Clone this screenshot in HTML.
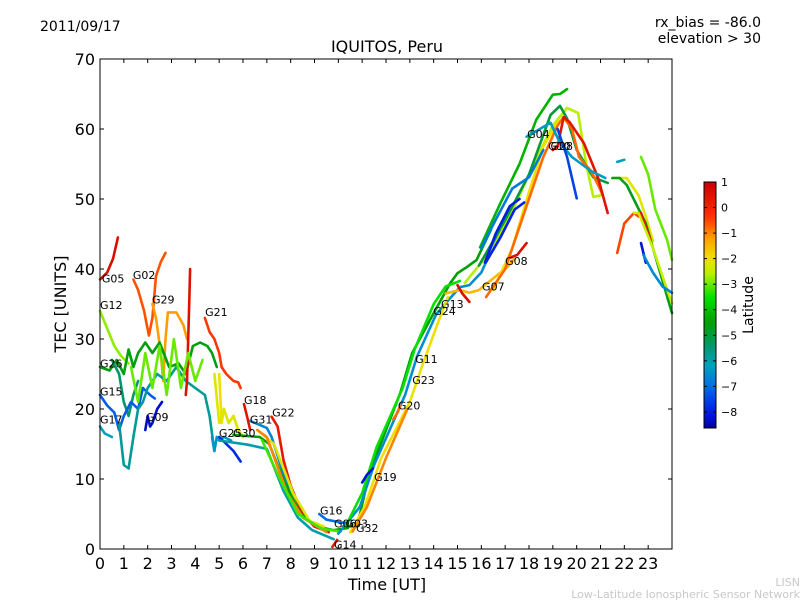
<!DOCTYPE html>
<html><head><meta charset="utf-8"><style>
body{margin:0;background:#fff;font-family:"Liberation Sans","DejaVu Sans",sans-serif}
svg text{font-family:"DejaVu Sans","Liberation Sans",sans-serif}
</style></head><body>
<svg id="c" width="800" height="600" xmlns="http://www.w3.org/2000/svg">
<rect width="800" height="600" fill="#fff"/>
<text x="40" y="31" font-size="14">2011/09/17</text>
<text x="761" y="27" font-size="14" text-anchor="end">rx_bias = -86.0</text>
<text x="761" y="43" font-size="14" text-anchor="end">elevation &gt; 30</text>
<text x="387" y="52" font-size="16" text-anchor="middle">IQUITOS, Peru</text>
<text x="387" y="590" font-size="16" text-anchor="middle">Time [UT]</text>
<text transform="translate(66,304) rotate(-90)" font-size="16" text-anchor="middle">TEC [UNITS]</text>
<text transform="translate(753,305) rotate(-90)" font-size="14" text-anchor="middle">Latitude</text>
<text x="800" y="586" font-size="11" fill="#c8c8c8" text-anchor="end">LISN</text>
<text x="800" y="598" font-size="11" fill="#c8c8c8" text-anchor="end">Low-Latitude Ionospheric Sensor Network</text>
<g id="plot"></g>
</svg>
<script>
const xTicks=[0,1,2,3,4,5,6,7,8,9,10,11,12,13,14,15,16,17,18,19,20,21,22,23];
const yTicks=[0,10,20,30,40,50,60,70];
const cbTicks=[1,0,-1,-2,-3,-4,-5,-6,-7,-8];
const cbRange=[-8.63,1];
const seriesNames=["g05","g02","g29","g12","g26","g26b","g15","g17","g17b","g09","g21","g21b","red-spike","lime-noise","yellow-noise","g25","g30","g18","g22","g31","d-green","d-teal","d-yellow","d-orange","d-lime","g16","g14","a-green","a-teal","a-yellow","a-orange","a-lime","g19","g20","g07","g13","g08","p-green","p-lime","p-green2","p-yellow","p-orange","p-red","g04","p-blue","p-blue2","p-teal","p-blue3","r-teal","r-glime","r-yellow","r-green","r-red","r-orange","r-ylime","r-blue","r-teal2"];
const seriesLat=[0.6,-0.6,-1.2,-2.8,-4.6,-5.4,-7.2,-6.2,-5.8,-8.3,-0.4,-2,0.5,-3,-2.2,-6.4,-7.8,0.4,0.3,-6.6,-4.5,-6,-2.2,-1,-3.2,-7,0.2,-4.5,-6.5,-2,-1,-3.5,-8.2,-0.8,-1.5,0.6,0.5,-4.2,-2.6,-5,-2,-0.8,0.4,-6.3,-8,-7.9,-6.8,-7.5,-6.2,-3,-2.2,-4.7,0.5,-0.5,-2.5,-8.1,-6.6];
const seriesT=[
[0,0.3,0.55,0.75],
[1.4,1.6,1.85,2.05,2.2,2.35,2.55,2.75],
[2.2,2.35,2.55,2.65,2.75,2.85,3.2,3.5,3.65],
[0,0.3,0.6,0.9,1.2],
[0,0.4,0.7,1.0,1.2,1.4,1.6,1.9,2.2,2.5,2.9,3.3,3.6,3.9,4.2,4.5,4.7,4.9],
[0.5,0.8,1.0,1.2,1.4,1.6],
[0,0.3,0.6,0.8,1.0,1.3,1.6,1.8,2.1,2.3],
[0,0.2,0.5],
[0.8,1.0,1.2,1.4,1.6,1.8,2.0,2.4,2.8,3.2,3.6,4.0,4.4,4.6,4.8],
[1.9,2.0,2.1,2.2,2.4,2.6],
[4.4,4.6,4.8,5.0,5.1,5.3,5.6,5.8,5.9],
[5.0,5.1,5.2,5.4,5.6,5.8,6.0],
[3.6,3.65,3.7,3.75,3.78],
[1.3,1.6,1.9,2.2,2.5,2.8,3.1,3.4,3.7,4.0,4.3],
[4.8,5.0,5.2,5.4,5.6,5.8,6.0],
[4.7,4.8,4.9,5.0,5.2,5.5],
[5.0,5.3,5.6,5.9],
[6.04,6.2,6.3],
[7.2,7.45,7.7,8.0,8.5,9.0,9.6],
[6.3,7.0,7.2,7.55,8.2],
[5.6,6.7,7.1,7.7,8.4,9.1,9.8,10.4],
[5.0,6.2,7.0,7.7,8.3,8.9,9.8],
[6.6,7.3,8.1,8.8,9.4],
[6.6,7.0,7.85,8.5,9.5],
[6.8,7.55,8.3,9.3,10.1],
[9.2,9.5,10.1,10.4],
[9.75,9.85,9.95],
[10.2,10.8,11.3,12.6,13.1,14.0,14.7,15.0,15.4,15.8,16.4],
[10.0,10.9,11.5,12.8,13.3,14.1,14.6,15.1,15.5,16.0,16.8],
[10.5,11.1,11.8,13.0,13.5,14.2,14.6],
[10.6,11.2,12.0,12.9],
[10.3,11.0,11.6,12.7,13.2,14.0,14.5,15.1],
[11.0,11.2,11.45],
[12.3,12.5,12.6],
[14.5,15.1,15.5,15.9,16.4,17.1,17.4],
[15.0,15.2,15.5],
[17.1,17.5,17.9],
[15.95,16.8,17.6,18.3,19.0,19.3,19.6],
[15.3,16.5,17.4,18.2,19.0,19.6,20.06,20.4,20.7,21.1],
[15.9,17.0,18.0,18.9,19.3,19.6,20.0,20.7,21.3],
[16.5,17.3,18.0,18.6,19.2,19.5],
[16.2,17.0,17.8,18.6,19.2,19.45,19.8,20.1,20.6,20.9,21.1],
[19.0,19.2,19.45,19.7,20.3,20.9,21.3],
[17.9,18.9,19.3,19.8,20.6,21.2],
[16.15,16.6,17.2,17.6],
[16.2,16.8,17.4,17.8],
[16.0,16.6,17.3,18.0,18.6],
[19.2,19.6,20.0],
[21.7,22.0],
[22.7,23.0,23.3,23.8,24.0],
[21.5,22.1,22.6,22.9,23.2],
[21.5,21.8,22.1,22.9,23.5,24.0],
[22.7,23.1],
[21.7,22.0,22.4,22.6],
[22.4,22.6,23.2,23.8,24.0],
[22.7,22.9],
[22.8,23.2,23.6,24.0]
];
const seriesV=[
[38.5,39.5,41.5,44.5],
[38.5,37,34,30.5,33,39,41,42.3],
[35,33,28,24,30,33.8,33.8,32,30],
[34,31.5,29,27.5,26.5],
[26,25.5,27,25,28.5,26,28,29.5,28,29.5,26,26.5,25,29,29.5,29,28,26],
[27,25,21,19,22,24],
[22,20.5,19.5,17,19,21,20,23,22,21.5],
[17.5,16.5,16],
[18,12,11.5,16,20,21,23,25,24,26,24,23,22,19,14],
[17,19,17.5,18,20,21],
[33,31,30,28,26,25,24,23.8,23],
[25,18,20,18,19,17,16],
[22,24,30,36,40],
[26,21,28,23,29,22,30,23,28,24,27],
[25,18,20,18,19,17,16],
[16,14,16,15.5,16,15.5],
[16,15,14,12.5],
[20.7,18.5,17],
[18.9,17.5,12.7,9,5,3.2,2.4],
[18.3,17.3,16,12.3,5.6],
[16.3,16,15,9.9,5.1,3.2,2.7,3.0],
[15.5,14.9,14.3,8.3,4.5,2.7,1.4],
[17,15,8,4,3.2],
[17,16,8,4.5,2.4],
[15.5,10,5,2.9,2.5],
[5,4.2,3.8,3.7],
[0.3,0.8,1.3],
[3.2,3.4,10.8,22.3,28,33.7,38,39.4,40.3,41.3,45.6],
[2.2,6,12,22,27.5,33.5,35.5,37.4,37.7,39.5,45.5],
[2.4,6,13,21,26,32.5,36],
[2.5,6,13,20],
[3.2,8,14.5,23,28.5,35,37.5,38.3],
[9.5,10.6,11.5],
[18.5,19.6,20.5],
[36.5,37,36.6,37,38.4,40.3,41.5],
[37.7,36.5,35.3],
[41.5,42,43.7],
[43.1,49.4,55,61.3,64.9,65,65.7],
[38,43,49,55,60.5,63,62.3,55,50.3,50.6],
[40.5,47,53.5,62,63.3,61.5,57,53.1,52.3],
[37,43,51,57.5,61,61.3],
[36,40,48,56,60.5,61.7,60,56,54,52,50.5],
[57,57.5,61.7,61,58,53,48],
[58.9,60.9,58,56,54,53],
[40.9,45,49,50],
[41,44.5,48.5,49.5],
[43,47,51.5,53.1,57],
[60,56,50.1],
[55.3,55.6],
[56,53.5,48.5,44.1,41.3],
[53,53,50.5,47.5,44],
[53,53,52,46.5,39.5,33.7],
[48,44.1],
[42.3,46.5,48,47.5],
[48,48,43,37,35.1],
[43.7,40.9],
[42,39.5,37.5,36.6]
];
const labelText=["G05","G02","G29","G12","G21","G26","G15","G17","G09","G18","G31","G22","G25","G30","G16","G06","G03","G32","G14","G19","G20","G23","G11","G24","G13","G07","G08","G04","G10","G28"];
const labelT=[0.08,1.38,2.18,0,4.41,0,0,0,1.93,6.04,6.29,7.22,4.99,5.58,9.23,9.82,10.3,10.74,9.82,11.5,12.5,13.1,13.22,13.98,14.31,16.03,17.0,17.92,18.8,18.9];
const labelV=[38.1,38.6,35.1,34.3,33.3,25.9,21.9,17.9,18.3,20.7,17.9,18.9,16,16,4.9,3.1,3.1,2.4,0.1,9.7,19.9,23.6,26.6,33.4,34.4,36.9,40.6,58.7,57,57];

const NS="http://www.w3.org/2000/svg";
const X0=100,X1=672,Y0=549,Y1=59;
const xs=t=>X0+t*(X1-X0)/24;
const ys=v=>Y0-v*(Y0-Y1)/70;
const CB={x:704,w:12,top:182,bot:428};
const cy=l=>CB.bot-(l-cbRange[0])/(cbRange[1]-cbRange[0])*(CB.bot-CB.top);
// colormap stops (fraction 0=bottom ... 1=top)
const cmapStops=[[0,[0,0,160]],[0.06,[0,24,224]],[0.17,[0,110,230]],[0.25,[0,160,192]],[0.33,[0,152,112]],[0.43,[0,160,0]],[0.53,[0,224,0]],[0.63,[192,240,0]],[0.69,[240,224,0]],[0.77,[255,160,0]],[0.86,[255,48,0]],[1,[200,0,0]]];
function cmap(f){f=Math.max(0,Math.min(1,f));
 for(let i=1;i<cmapStops.length;i++){const a=cmapStops[i-1],b=cmapStops[i];
  if(f<=b[0]){const u=(f-a[0])/(b[0]-a[0]);const c=a[1].map((v,k)=>Math.round(v+(b[1][k]-v)*u));return `rgb(${c[0]},${c[1]},${c[2]})`;}}
 return 'rgb(200,0,0)';}
const latColor=l=>cmap((l-cbRange[0])/(cbRange[1]-cbRange[0]));
const g=document.getElementById('plot');
function mk(tag,attrs,parent){const e=document.createElementNS(NS,tag);for(const k in attrs)e.setAttribute(k,attrs[k]);(parent||g).appendChild(e);return e;}

for(let i=0;i<seriesNames.length;i++){
 const pts=seriesT[i].map((t,j)=>xs(t).toFixed(1)+','+ys(seriesV[i][j]).toFixed(1)).join(' ');
 const p=mk('polyline',{points:pts,fill:'none',stroke:latColor(seriesLat[i]),'stroke-width':2.6,'stroke-linejoin':'round','stroke-linecap':'round'});
 
 
}
for(let i=0;i<labelText.length;i++){
 const t=mk('text',{x:xs(labelT[i]),y:ys(labelV[i]),'font-size':11});
 t.textContent=labelText[i];
 
 
}
const fr=mk('rect',{x:X0,y:Y1,width:X1-X0,height:Y0-Y1,fill:'none',stroke:'#000','stroke-width':1});


xTicks.forEach(t=>{
 const x=xs(t);
 mk('line',{x1:x,x2:x,y1:Y0,y2:Y0-4,stroke:'#000'});
 mk('line',{x1:x,x2:x,y1:Y1,y2:Y1+4,stroke:'#000'});
 const tx=mk('text',{x:x,y:Y0+20,'font-size':16,'text-anchor':'middle'});
 tx.textContent=t;
 
 
});
yTicks.forEach(v=>{
 const y=ys(v);
 mk('line',{x1:X0,x2:X0+4,y1:y,y2:y,stroke:'#000'});
 mk('line',{x1:X1,x2:X1-4,y1:y,y2:y,stroke:'#000'});
 const tx=mk('text',{x:X0-5,y:y+6,'font-size':16,'text-anchor':'end'});
 tx.textContent=v;
 
 
});
const defs=mk('defs',{});
const lg=mk('linearGradient',{id:'cbg',x1:0,y1:1,x2:0,y2:0},defs);
for(let k=0;k<=40;k++)mk('stop',{offset:k/40,'stop-color':cmap(k/40)},lg);
const cb=mk('rect',{x:CB.x,y:CB.top,width:CB.w,height:CB.bot-CB.top,fill:'url(#cbg)',stroke:'#000'});


cbTicks.forEach(l=>{
 const y=cy(l);
 mk('line',{x1:CB.x,x2:CB.x+3,y1:y,y2:y,stroke:'#000'});
 mk('line',{x1:CB.x+CB.w,x2:CB.x+CB.w-3,y1:y,y2:y,stroke:'#000'});
 const tx=mk('text',{x:CB.x+CB.w+5,y:y+4,'font-size':11});
 tx.textContent=l<0?'\u2212'+(-l):l;
 
 
});
</script>
</body></html>
